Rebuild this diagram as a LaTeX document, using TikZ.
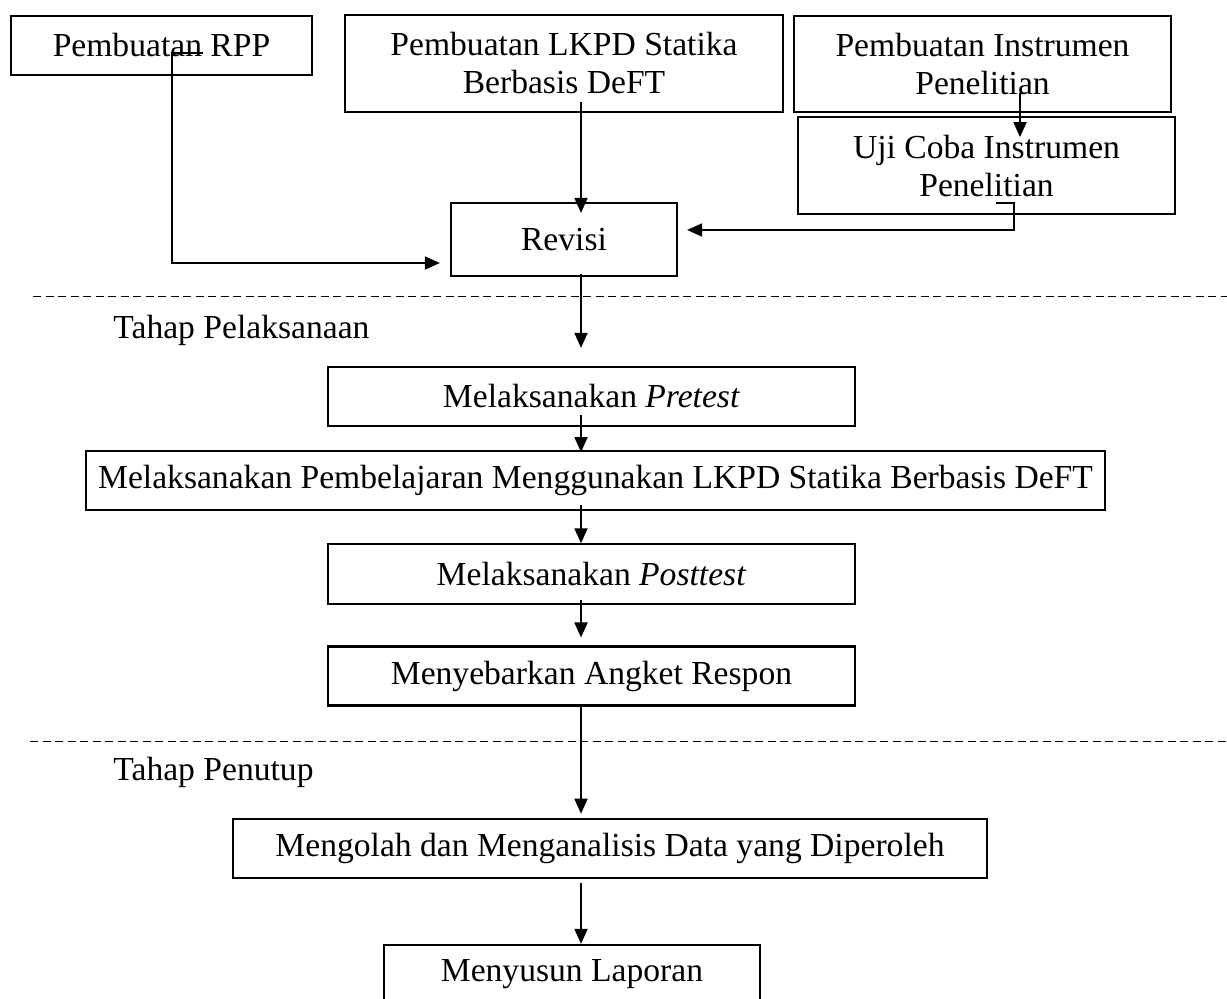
\documentclass[tikz,border=0pt]{standalone}
\usepackage{fontspec}
\setmainfont{Liberation Serif}
\usetikzlibrary{arrows.meta, positioning}

\begin{document}
\begin{tikzpicture}[x=0.5pt, y=-0.5pt]
        \tikzstyle{block} = [rectangle, draw, line width=1.1pt, inner sep=0pt, align=center, font=\fontsize{16.8}{19}\selectfont]
        \tikzstyle{line} = [draw, line width=0.9pt, -{Triangle[length=7.5pt, width=6.5pt]}]
        \tikzstyle{divider} = [draw, line width=0.5pt, dash pattern=on 4pt off 2.25pt]
        \tikzstyle{stage} = [anchor=west, inner sep=0pt, font=\fontsize{16.8}{19}\selectfont]

        \useasboundingbox (0,0) rectangle (1227,999);

        % Nodes
        \node [block, minimum width=150.5pt, minimum height=29.5pt] (rpp) at (161.5,45.5) {Pembuatan RPP};
        \node [block, minimum width=219pt, minimum height=48.5pt] (lkpd) at (564,63.5) {Pembuatan LKPD Statika \\ Berbasis DeFT};
        \node [block, minimum width=188.5pt, minimum height=48pt] (instr) at (982.5,64) {Pembuatan Instrumen \\ Penelitian};
        \node [block, minimum width=188.5pt, minimum height=48.5pt, below=1.5pt of instr, xshift=2pt] (uji) {Uji Coba Instrumen \\ Penelitian};
        \node [block, minimum width=113pt, minimum height=36.5pt] (revisi) at (564,239.5) {Revisi};
        \node [block, minimum width=263.5pt, minimum height=29.5pt] (pretest) at (591.5,396.5) {Melaksanakan \textit{Pretest}};
        \node [block, minimum width=509.5pt, minimum height=29.5pt, below=11.5pt of pretest, xshift=2pt] (belajar) {Melaksanakan Pembelajaran Menggunakan LKPD Statika Berbasis DeFT};
        \node [block, minimum width=263.5pt, minimum height=30pt, below=16pt of belajar, xshift=-2pt] (posttest) {Melaksanakan \textit{Posttest}};
        \node [block, minimum width=263.5pt, minimum height=29.5pt, below=20pt of posttest] (angket) {Menyebarkan Angket Respon};
        \node [block, minimum width=377pt, minimum height=29.5pt, below=55.5pt of angket, xshift=9.25pt] (analisis) {Mengolah dan Menganalisis Data yang Diperoleh};
        \node [block, minimum width=188pt, minimum height=29.5pt, below=32.5pt of analisis, xshift=-19pt] (laporan) {Menyusun Laporan};

        \node [stage] (pelaksanaan) at (113,330) {Tahap Pelaksanaan};
        \node [stage] (penutup) at (113,772) {Tahap Penutup};

        \coordinate (spine) at (581,0);
        \coordinate (instrx) at (1020,0);

        % Dividers
        \path [divider] (33,297) -- (1227,297);
        \path [divider] (30,742) -- (1227,742);

        % Paths
        \path [line] ([shift={(41.5,7.5)}]rpp.center) -- ++(-31,0) |- ([shift={(-10,23.5)}]revisi.west);
        \path [line, shorten <=-5.5pt, shorten >=-5.5pt] (lkpd.south -| spine) -- (revisi.north -| spine);
        \path [line, shorten <=-10pt, shorten >=-10.5pt] (instr.south -| instrx) -- (uji.north -| instrx);
        \path [line] ([shift={(9.5,-12)}]uji.south) -- ++(18,0) |- ([shift={(9,-9.5)}]revisi.east);
        \path [line, shorten <=-1.5pt, shorten >=9pt] (revisi.south -| spine) -- (pretest.north -| spine);
        \path [line, shorten <=-6pt, shorten >=-1pt] (pretest.south -| spine) -- (belajar.north -| spine);
        \path [line, shorten <=-3pt] (belajar.south -| spine) -- (posttest.north -| spine);
        \path [line, shorten <=-2.5pt, shorten >=4pt] (posttest.south -| spine) -- (angket.north -| spine);
        \path [line, shorten >=2pt] (angket.south -| spine) -- (analisis.north -| spine);
        \path [line, shorten <=2pt] (analisis.south -| spine) -- (laporan.north -| spine);
    \end{tikzpicture}
\end{document}
